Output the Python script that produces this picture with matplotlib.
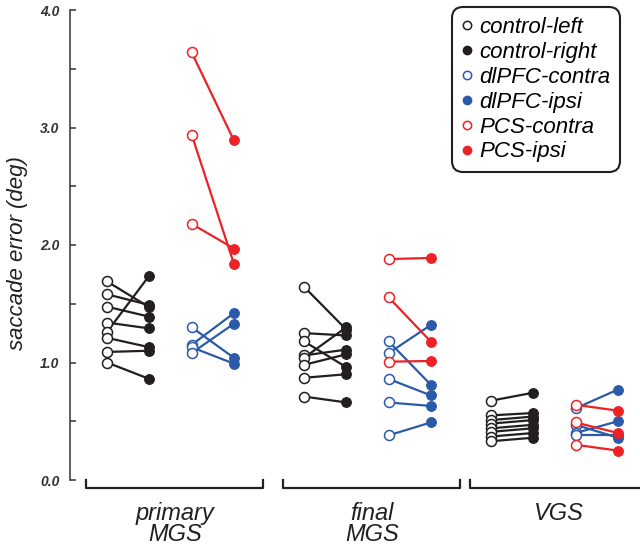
import matplotlib
matplotlib.use('Agg')
import matplotlib.pyplot as plt
from matplotlib.lines import Line2D

plt.rcParams['font.family'] = ['Liberation Sans', 'DejaVu Sans']

# Values (saccade error, deg)
groups = ['primary\nMGS', 'final\nMGS', 'VGS']

ctrl_left = [
    [1.69, 1.58, 1.475, 1.34, 1.26, 1.21, 1.09, 1.00],
    [1.645, 1.25, 1.18, 1.06, 1.04, 0.98, 0.87, 0.71],
    [0.675, 0.55, 0.51, 0.48, 0.44, 0.41, 0.37, 0.33],
]
ctrl_right = [
    [1.47, 1.49, 1.39, 1.29, 1.74, 1.13, 1.10, 0.86],
    [1.28, 1.23, 0.96, 1.11, 1.30, 1.07, 0.90, 0.66],
    [0.743, 0.57, 0.54, 0.51, 0.47, 0.44, 0.40, 0.36],
]
dlpfc_contra = [
    [1.30, 1.15, 1.13, 1.08],
    [1.18, 1.08, 0.86, 0.66, 0.38],
    [0.61, 0.47, 0.40, 0.38],
]
dlpfc_ipsi = [
    [1.04, 1.42, 0.99, 1.33],
    [0.81, 1.32, 0.72, 0.63, 0.49],
    [0.77, 0.36, 0.50, 0.38],
]
pcs_contra = [
    [3.64, 2.94, 2.18],
    [1.88, 1.555, 1.007],
    [0.64, 0.49, 0.30],
]
pcs_ipsi = [
    [2.89, 1.84, 1.97],
    [1.89, 1.177, 1.013],
    [0.59, 0.40, 0.25],
]

BLACK = '#231f20'
BLUE = '#2b5ba8'
RED = '#ec2227'

group_start = [0.0, 4.657, 9.078]

fig = plt.figure(figsize=(6.4, 5.48), dpi=100)
ax = fig.add_axes([70 / 640, 68 / 548, 570 / 640, 470 / 548])


def pairs(x0, left, right, color):
    for a, b in zip(left, right):
        ax.plot([x0, x0 + 1], [a, b], color=color, lw=1.6, zorder=2,
                solid_capstyle='round')
    for a, b in zip(left, right):
        ax.plot(x0, a, 'o', ms=7.2, mfc='white', mec=color, mew=1.1, zorder=3)
        ax.plot(x0 + 1, b, 'o', ms=7.0, mfc=color, mec=color, mew=0.8, zorder=3)


for g, s in enumerate(group_start):
    pairs(s, ctrl_left[g], ctrl_right[g], BLACK)
    pairs(s + 2, dlpfc_contra[g], dlpfc_ipsi[g], BLUE)
    pairs(s + 2, pcs_contra[g], pcs_ipsi[g], RED)

ax.set_xlim(-0.875, 12.6)
ax.set_ylim(0, 4)

for sp in ['top', 'right', 'bottom']:
    ax.spines[sp].set_visible(False)
ax.spines['left'].set_linewidth(1.1)
ax.spines['left'].set_color('#333333')
ax.set_xticks([])
ax.set_yticks([0, 1, 2, 3, 4])
ax.set_yticks([0.5, 1.5, 2.5, 3.5], minor=True)
ax.set_yticklabels(['0.0', '1.0', '2.0', '3.0', '4.0'])
ax.tick_params(axis='y', which='both', direction='in', length=4.5,
               width=1.1, color='#333333')
ax.tick_params(axis='y', which='major', pad=7.5, labelsize=10,
               labelcolor='#333333')
for t in ax.get_yticklabels():
    t.set_fontweight('bold')
    t.set_fontstyle('italic')

fig.text(18 / 640, 1 - 253 / 548, 'saccade error (deg)', rotation=90,
         ha='center', va='center', fontsize=16, style='italic',
         color=BLACK)

# group brackets under the axis
trans = ax.get_xaxis_transform()
yb0, yb1 = 0.0, -8 / 470
for g, s in enumerate(group_start):
    c = s + 1.5 + 0.1
    l, r = c - 2.09, c + 2.09
    ax.plot([l, l, r, r], [yb0, yb1, yb1, yb0], color=BLACK, lw=1.6,
            transform=trans, clip_on=False)
    ax.text(c, -22 / 470, groups[g], transform=trans, ha='center', va='top',
            fontsize=17, style='italic', color=BLACK, linespacing=0.9)

handles = [
    Line2D([], [], ls='', marker='o', ms=6, mfc='white', mec=BLACK, mew=1.1),
    Line2D([], [], ls='', marker='o', ms=6, mfc=BLACK, mec=BLACK),
    Line2D([], [], ls='', marker='o', ms=6, mfc='white', mec=BLUE, mew=1.1),
    Line2D([], [], ls='', marker='o', ms=6, mfc=BLUE, mec=BLUE),
    Line2D([], [], ls='', marker='o', ms=6, mfc='white', mec=RED, mew=1.1),
    Line2D([], [], ls='', marker='o', ms=6, mfc=RED, mec=RED),
]
labels = ['control-left', 'control-right', 'dlPFC-contra', 'dlPFC-ipsi',
          'PCS-contra', 'PCS-ipsi']
leg = fig.legend(handles, labels, loc='upper right',
                 bbox_to_anchor=(620 / 640, 1 - 7 / 548),
                 prop={'size': 16, 'style': 'italic'},
                 handlelength=0.4, handletextpad=0.35, labelspacing=0.175,
                 borderpad=0.45, borderaxespad=0, fancybox=True,
                 frameon=True, framealpha=1)
leg.get_frame().set_edgecolor(BLACK)
leg.get_frame().set_linewidth(1.5)
leg.get_frame().set_boxstyle('round,pad=0,rounding_size=0.5')

fig.savefig('out.png', dpi=100)
